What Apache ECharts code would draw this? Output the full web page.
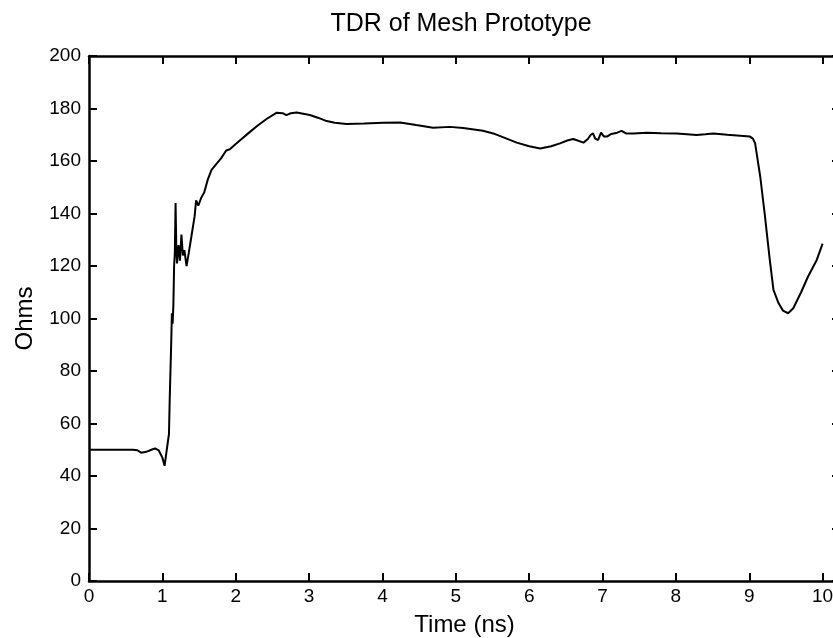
<!DOCTYPE html>
<html>
<head>
<meta charset="utf-8">
<script src="https://cdn.jsdelivr.net/npm/echarts@6/dist/echarts.min.js"></script>
<style>html,body{margin:0;padding:0;background:#fff}#c{width:833px;height:638px}</style>
</head>
<body>
<div id="c"></div>
<script>
var titleText = 'TDR of Mesh Prototype';
var xName = 'Time (ns)';
var yName = 'Ohms';
var timeNs = [0,0.6,0.66,0.71,0.78,0.85,0.9,0.95,1.0,1.03,1.06,1.09,1.1,1.12,1.13,1.14,1.15,1.16,1.17,1.18,1.19,1.2,1.22,1.24,1.26,1.28,1.3,1.33,1.36,1.4,1.44,1.46,1.49,1.53,1.57,1.62,1.67,1.74,1.8,1.87,1.92,2.0,2.19,2.3,2.42,2.56,2.64,2.69,2.75,2.83,2.92,3.01,3.12,3.24,3.35,3.51,3.75,4.01,4.24,4.35,4.46,4.69,4.92,5.1,5.37,5.51,5.65,5.83,6.0,6.15,6.3,6.42,6.52,6.6,6.66,6.74,6.8,6.84,6.87,6.9,6.94,6.98,7.02,7.06,7.12,7.2,7.26,7.32,7.42,7.6,7.8,8.01,8.15,8.28,8.4,8.51,8.7,9.01,9.05,9.08,9.15,9.21,9.28,9.33,9.4,9.46,9.53,9.6,9.71,9.8,9.92,10.0];
var ohms = [50,50,49.8,48.9,49.2,50,50.5,49.8,47,43.9,50,56,69,90,102,98,105,120,125,144,127,121,128,122,132,124,126,120,125,132,139,145,143,146,148,153,156.6,159,161,164,164.5,166.5,171,173.5,176,178.4,178.2,177.5,178.2,178.5,178,177.5,176.5,175.2,174.6,174.1,174.3,174.6,174.7,174.2,173.7,172.7,173,172.6,171.5,170.5,169,167,165.6,164.8,165.6,166.7,167.8,168.4,167.8,167,168.4,170,170.5,168.5,168,170.8,169.3,169.3,170.3,170.8,171.5,170.5,170.5,170.8,170.6,170.5,170.2,169.9,170.2,170.5,170,169.3,168.5,166.7,154,140,122.3,110.9,105.8,103,102,103.9,110.2,115.9,122.3,128.5];
var xMin = 0, xMax = 10.237, xStep = 1;
var yMin = 0, yMax = 200, yStep = 20;

var pts = timeNs.map(function (t, i) { return [t, ohms[i]]; });
var font = 'Liberation Sans, Arial, Helvetica, sans-serif';
function axLine() { return { show: true, onZero: false, lineStyle: { color: '#000', width: 2.5 } }; }
function tick() { return { show: true, inside: true, length: 8, lineStyle: { color: '#000', width: 2 } }; }
var intFmt = function (v) { return Math.abs(v - Math.round(v)) < 1e-9 ? String(Math.round(v)) : ''; };

var chart = echarts.init(document.getElementById('c'), null, { renderer: 'canvas' });
chart.setOption({
  animation: false,
  backgroundColor: '#fff',
  title: { text: titleText, left: 456, textAlign: 'center', top: 7,
    textStyle: { fontFamily: font, fontSize: 25, fontWeight: 'normal', color: '#000' } },
  grid: { left: 89, right: -7, top: 56, bottom: 57, containLabel: false, outerBoundsMode: 'none' },
  xAxis: [
    { type: 'value', position: 'bottom', min: xMin, max: xMax, interval: xStep,
      name: xName, nameLocation: 'middle', nameGap: 32,
      nameTextStyle: { fontFamily: font, fontSize: 24, color: '#000' },
      axisLine: axLine(), axisTick: tick(), splitLine: { show: false },
      axisLabel: { formatter: intFmt, margin: 6, fontFamily: font, fontSize: 19, color: '#000', hideOverlap: false } },
    { type: 'value', position: 'top', min: xMin, max: xMax, interval: xStep,
      axisLine: axLine(), axisTick: tick(), splitLine: { show: false }, axisLabel: { show: false } }
  ],
  yAxis: [
    { type: 'value', position: 'left', min: yMin, max: yMax, interval: yStep,
      name: yName, nameLocation: 'middle', nameGap: 52, nameRotate: 90,
      nameTextStyle: { fontFamily: font, fontSize: 24, color: '#000' },
      axisLine: axLine(), axisTick: tick(), splitLine: { show: false },
      axisLabel: { margin: 8, fontFamily: font, fontSize: 19, color: '#000' } },
    { type: 'value', position: 'right', min: yMin, max: yMax, interval: yStep,
      axisLine: axLine(), axisTick: tick(), splitLine: { show: false }, axisLabel: { show: false } }
  ],
  series: [{
    type: 'line', data: pts, showSymbol: false, symbol: 'none',
    lineStyle: { color: '#000', width: 2 }, clip: true
  }]
});
</script>
</body>
</html>
